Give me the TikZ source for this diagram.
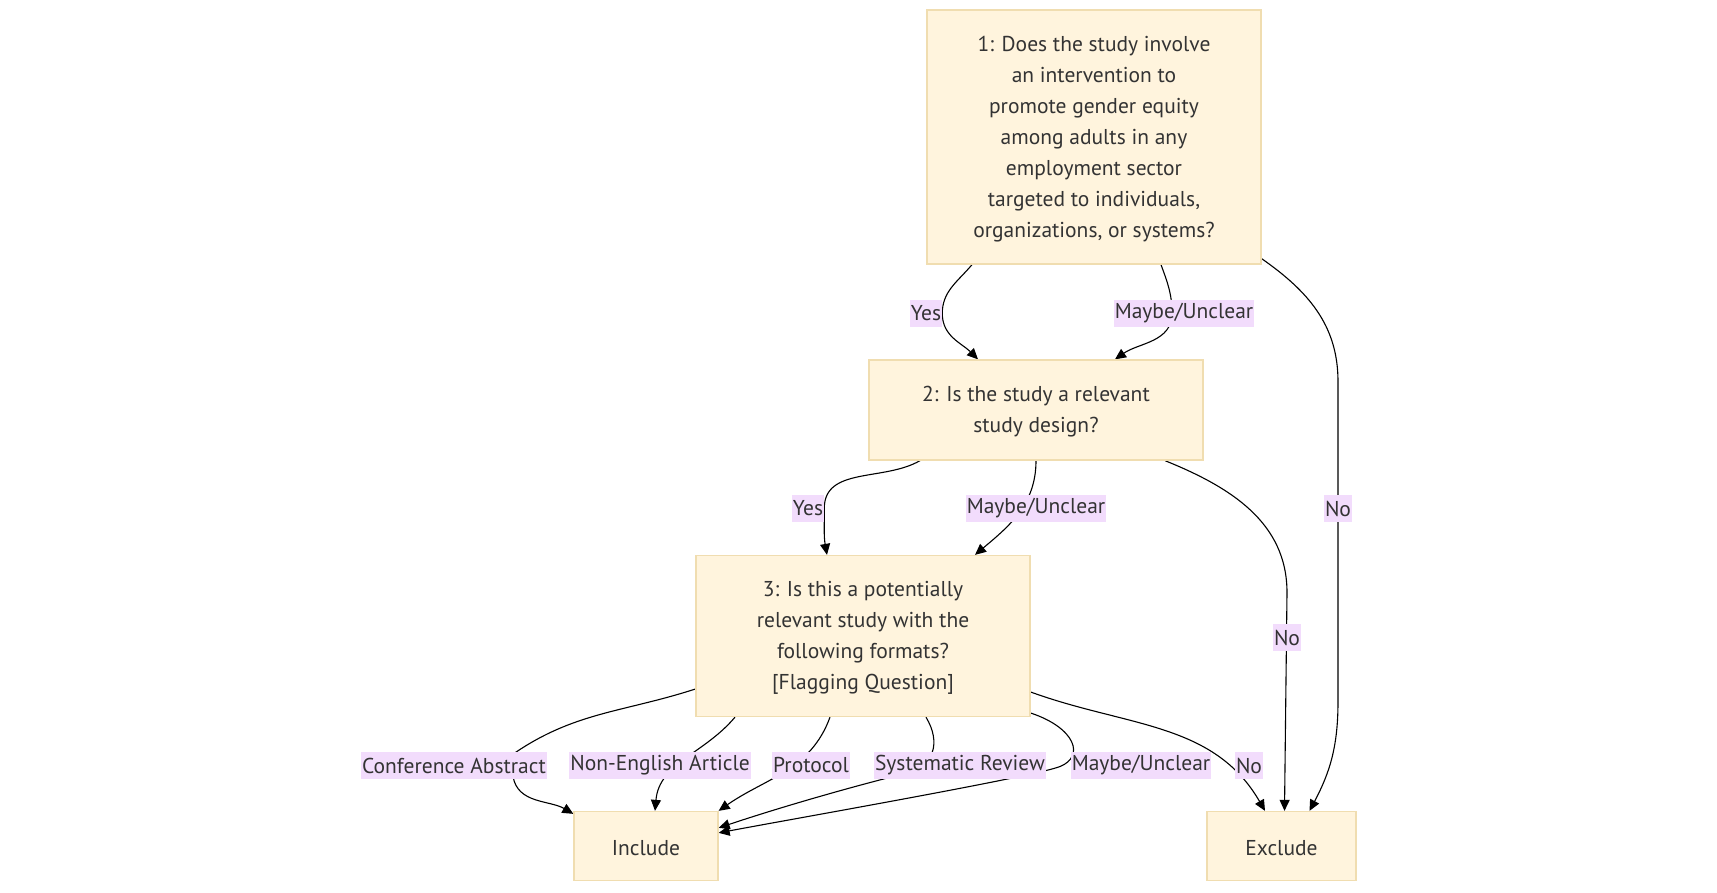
\documentclass[tikz,border=0pt]{standalone}
\usepackage{fontspec}
\setmainfont{PT Sans}
\usetikzlibrary{arrows.meta}
\definecolor{nodefill}{HTML}{FFF4DD}
\definecolor{nodeline}{HTML}{F0DDB0}
\definecolor{lblfill}{HTML}{F2DCFC}
\definecolor{ink}{HTML}{333333}
\pgfdeclarelayer{edges}
\pgfsetlayers{edges,main}
\begin{document}
\begin{tikzpicture}[x=1pt,y=1pt,
  txt/.style={font=\fontsize{21.5}{31}\selectfont, text=ink},
  box/.style={txt, draw=nodeline, line width=1.3pt, fill=nodefill, align=center, inner sep=0pt},
  lbl/.style={txt, fill=lblfill, inner xsep=1pt, inner ysep=0pt, minimum height=27pt},
  link/.style={draw=black, line width=1.1pt, -{Triangle[length=11pt,width=10pt]}}]
\useasboundingbox (0,0) rectangle (1717,-892);

% decision boxes
\node[box, minimum width=334pt, minimum height=254pt] (q1) at (1094,-137)
  {\rule{0pt}{19pt}1: Does the study involve\\an intervention to\\promote gender equity\\among adults in any\\employment sector\\targeted to individuals,\\organizations, or systems?};
\node[box, minimum width=334pt, minimum height=100pt] (q2) at (1036,-410)
  {\rule{0pt}{19pt}2: Is the study a relevant\\study design?};
\node[box, minimum width=334pt, minimum height=161pt] (q3) at (863,-636)
  {\rule{0pt}{19pt}3: Is this a potentially\\relevant study with the\\following formats?\\{[}Flagging Question{]}};
\node[box, minimum width=144pt, minimum height=69pt] (inc) at (646,-846) {\rule{0pt}{19pt}Include};
\node[box, minimum width=149pt, minimum height=69pt] (exc) at (1281.5,-846) {\rule{0pt}{19pt}Exclude};

% edge labels
\node[lbl] (l1y) at (926,-313.5) {Yes};
\node[lbl] (l1m) at (1184,-313.5) {Maybe/Unclear};
\node[lbl] (l1n) at (1338,-508.5) {No};
\node[lbl] (l2y) at (808,-508.5) {Yes};
\node[lbl] (l2m) at (1036,-508.5) {Maybe/Unclear};
\node[lbl] (l2n) at (1287,-637.5) {No};
\node[lbl] (l3a) at (454,-765.5) {Conference Abstract};
\node[lbl] (l3b) at (660,-765.5) {Non-English Article};
\node[lbl] (l3c) at (811,-765.5) {Protocol};
\node[lbl] (l3d) at (960,-765.5) {Systematic Review};
\node[lbl] (l3e) at (1141,-765.5) {Maybe/Unclear};
\node[lbl] (l3f) at (1249,-765.5) {No};

\begin{pgfonlayer}{edges}
% question 1
\draw[link] ([xshift=-122pt]q1.south) to[out=-130,in=90] (l1y.east)
  to[out=-90,in=135] ([xshift=-58pt]q2.north);
\draw[link] ([xshift=67pt]q1.south) to[out=-70,in=90] ([xshift=-12pt]l1m.center)
  to[out=-90,in=35] ([xshift=79pt]q2.north);
\draw[link] ([yshift=6pt]q1.south east) to[out=-35,in=90] ([yshift=127pt]l1n.center)
  -- ([yshift=-193pt]l1n.center) to[out=-90,in=62] ([xshift=28pt]exc.north);
% question 2
\draw[link] ([xshift=-116pt]q2.south) to[out=-150,in=90] (l2y.east)
  to[out=-90,in=100] ([xshift=-36pt]q3.north);
\draw[link] (q2.south) to[out=-90,in=40] ([xshift=112pt]q3.north);
\draw[link] ([xshift=129pt]q2.south) to[out=-22,in=90] ([yshift=45pt]l2n.center)
  -- ([xshift=3pt]exc.north);
% question 3
\draw[link] ([yshift=-53pt]q3.west) to[out=-162,in=35] ([xshift=57pt,yshift=10pt]l3a.center)
  -- ([xshift=59pt,yshift=-11pt]l3a.center)
  to[out=-80,in=150] ([yshift=-3pt]inc.north west);
\draw[link] ([xshift=-128pt]q3.south) to[out=-130,in=85] ([xshift=9pt]inc.north);
\draw[link] ([xshift=-33pt]q3.south) to[out=-110,in=35] (inc.north east);
\draw[link] ([xshift=63pt]q3.south) .. controls +(15,-25) and +(30,7.5) .. ([xshift=-55pt,yshift=-8pt]l3d.center)
  .. controls +(-60,-15) and +(60,20) .. ([yshift=-17pt]inc.north east);
\draw[link] ([yshift=-77pt]q3.east) .. controls +(45,-15) and +(25,10) .. ([xshift=100pt,yshift=-1pt]l3d.center)
  .. controls +(-25,-10) and +(80,15) .. ([yshift=-22pt]inc.north east);
\draw[link] ([yshift=-56pt]q3.east) to[out=-20,in=120] ([xshift=-16.5pt]exc.north);
\end{pgfonlayer}
\end{tikzpicture}
\end{document}
